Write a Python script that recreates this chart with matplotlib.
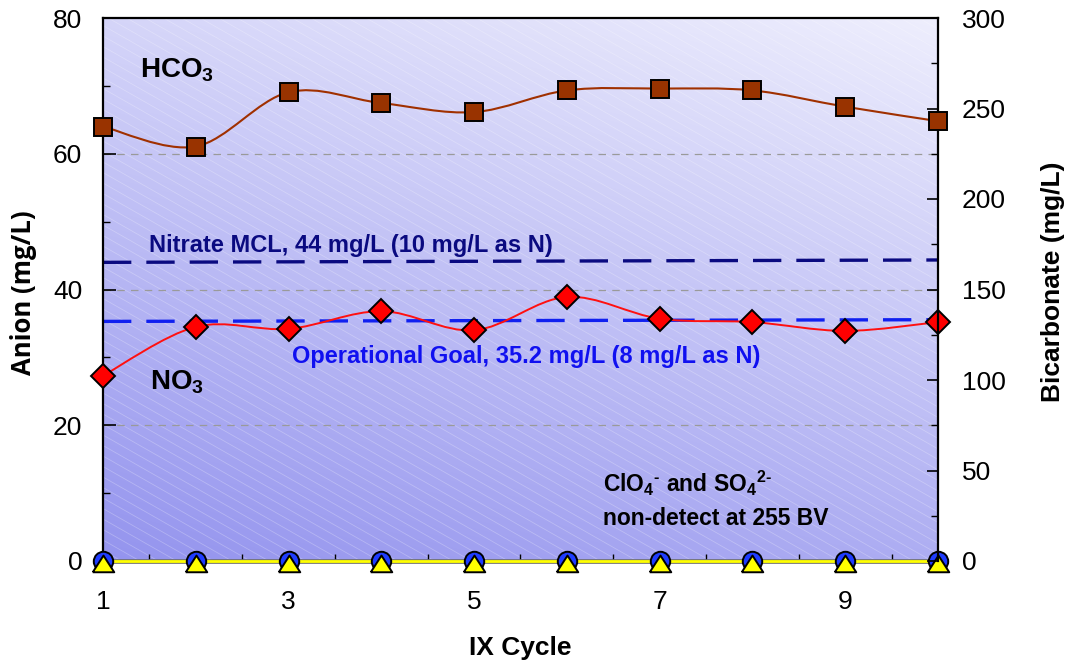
import numpy as np
import matplotlib
matplotlib.use('Agg')
import matplotlib.pyplot as plt
from matplotlib.path import Path
from matplotlib.patches import PathPatch
from matplotlib.collections import LineCollection
import matplotlib.patheffects as pe

plt.rcParams['font.family'] = ['Liberation Sans', 'DejaVu Sans']
plt.rcParams['mathtext.fontset'] = 'custom'
plt.rcParams['mathtext.rm'] = 'Liberation Sans'
plt.rcParams['mathtext.bf'] = 'Liberation Sans:bold'
plt.rcParams['mathtext.it'] = 'Liberation Sans:italic'

# ---------------- data ----------------
cycles = [1, 2, 3, 4, 5, 6, 7, 8, 9, 10]
hco3 = [240, 229, 259, 253, 248, 260, 261, 260, 251, 243]          # right axis
no3 = [27.3, 34.5, 34.2, 36.8, 34.0, 38.9, 35.7, 35.2, 33.9, 35.2]  # left axis
clo4 = [0, 0, 0, 0, 0, 0, 0, 0, 0, 0]
so4 = [0, 0, 0, 0, 0, 0, 0, 0, 0, 0]
mcl_x = [1, 10]
mcl_y = [44.0, 44.35]
goal_x = [1, 10]
goal_y = [35.3, 35.55]
x_ticklabels = ['1', '3', '5', '7', '9']
x_tickpos = [1, 3, 5, 7, 9]
left_ticks = [0, 20, 40, 60, 80]
right_ticks = [0, 50, 100, 150, 200, 250, 300]

W, H = 1066, 665
fig = plt.figure(figsize=(W / 100, H / 100), dpi=100)
L, R, T, B = 103, 938, 18, 561
pos = [L / W, (H - B) / H, (R - L) / W, (B - T) / H]
pw, ph = R - L, B - T

# ---------------- background (gradient + diagonal stripes) ----------------
bg = fig.add_axes(pos, zorder=0)
nx, ny = 200, 200
gx = np.linspace(0, 1, nx)[None, :]
gy = np.linspace(0, 1, ny)[:, None]
t = np.clip((gx * 0.35 + gy * 0.9) / 1.25, 0, 1)
c0 = np.array([148, 148, 238]) / 255.0
c1 = np.array([238, 238, 253]) / 255.0
img = c0[None, None, :] * (1 - t[..., None]) + c1[None, None, :] * t[..., None]
bg.imshow(img, extent=[0, pw, 0, ph], origin='lower', aspect='auto', interpolation='bilinear')
slope = -0.57
segs = []
for c in np.arange(0, ph - slope * pw + 12, 10.5):
    segs.append([(0, c), (pw, c + slope * pw)])
bg.add_collection(LineCollection(segs, colors='white', linewidths=0.6, alpha=0.25))
bg.set_xlim(0, pw)
bg.set_ylim(0, ph)
bg.axis('off')

# ---------------- main axes ----------------
ax = fig.add_axes(pos, zorder=1)
ax.patch.set_visible(False)
ax2 = ax.twinx()
ax2.set_zorder(2)
ax2.patch.set_visible(False)

ax.set_xlim(1, 10)
ax.set_ylim(0, 80)
ax2.set_ylim(0, 300)

for yv in [20, 40, 60]:
    ax.axhline(yv, color='#9a9a9a', lw=0.9, linestyle=(0, (6, 5)), zorder=1)

# reference lines
ax.plot(mcl_x, mcl_y, color='#0a0a80', lw=2.4, dashes=(8.5, 4.5), zorder=2, clip_on=False)
ax.plot(goal_x, goal_y, color='#1020f0', lw=2.4, dashes=(8.5, 4.5), zorder=2, clip_on=False)


def smooth_path(x, y):
    pts = np.column_stack([x, y]).astype(float)
    ext = np.vstack([pts[0], pts, pts[-1]])
    verts = [pts[0]]
    codes = [Path.MOVETO]
    for i in range(len(pts) - 1):
        p0, p1, p2, p3 = ext[i], ext[i + 1], ext[i + 2], ext[i + 3]
        verts += [p1 + (p2 - p0) / 6.0, p2 - (p3 - p1) / 6.0, p2]
        codes += [Path.CURVE4] * 3
    return Path(verts, codes)


# NO3
ax.add_patch(PathPatch(smooth_path(cycles, no3), fill=False, edgecolor='#ff1010', lw=1.4, zorder=3))
ax.plot(cycles, no3, linestyle='none', marker='D', ms=12.5, mfc='#ff0000', mec='black', mew=1.4,
        zorder=4, clip_on=False)

# zero series
ax.plot(cycles, clo4, color='#1f3cff', lw=2, zorder=3, clip_on=False)
ax.plot(cycles, so4, color='#ffff00', lw=2.0, zorder=3.5, clip_on=False,
        path_effects=[pe.Stroke(linewidth=3.4, foreground='#707070'), pe.Normal()])
ax.plot(cycles, clo4, linestyle='none', marker='o', ms=14, mfc='#1f3cff', mec='black', mew=1.4,
        zorder=5, clip_on=False)
tri = [(-1, -1), (1, -1), (0, 0.55), (-1, -1)]
ax.plot(cycles, so4, linestyle='none', marker=tri, ms=15.5, mfc='#ffff00', mec='black', mew=1.4,
        zorder=6, clip_on=False)

# HCO3 (right axis)
ax2.add_patch(PathPatch(smooth_path(cycles, hco3), fill=False, edgecolor='#a03000', lw=1.5, zorder=3))
ax2.plot(cycles, hco3, linestyle='none', marker='s', ms=13.5, mfc='#993300', mec='black', mew=1.4,
         zorder=4, clip_on=False)

# ---------------- ticks & spines ----------------
ax.set_xticks(x_tickpos)
ax.set_xticklabels(x_ticklabels)
ax.set_xticks(np.arange(1.5, 10, 1), minor=True)
ax.tick_params(axis='x', which='major', length=0, labelsize=19, pad=21)
ax.tick_params(axis='x', which='minor', direction='in', length=5, width=1.0, color='black')
ax.set_yticks(left_ticks)
ax.set_yticks(np.arange(10, 80, 20), minor=True)
ax.tick_params(axis='y', which='major', direction='in', length=9, width=1.2, labelsize=19, pad=15)
ax.tick_params(axis='y', which='minor', direction='in', length=5, width=1.0)

ax2.set_yticks(right_ticks)
ax2.set_yticks(np.arange(25, 300, 50), minor=True)
ax2.tick_params(axis='y', which='major', direction='in', length=8, width=1.2, labelsize=19, pad=17)
ax2.tick_params(axis='y', which='minor', direction='in', length=5, width=1.0)

for s in ['left', 'top']:
    ax.spines[s].set_linewidth(1.6)
    ax.spines[s].set_color('black')
ax.spines['bottom'].set_visible(False)
ax.spines['right'].set_visible(False)
for s in ['left', 'top', 'bottom']:
    ax2.spines[s].set_visible(False)
ax2.spines['right'].set_linewidth(1.6)

# ---------------- labels & annotations ----------------
fig.text(0.5 * (L + R) / W, 1 - 648 / H, 'IX Cycle', ha='center', va='center',
         fontsize=19, fontweight='bold')
fig.text(24 / W, 1 - 293 / H, 'Anion (mg/L)', ha='center', va='center', rotation=90,
         fontsize=18.5, fontweight='bold', family=['Open Sans', 'DejaVu Sans'])
fig.text(1053 / W, 1 - 282 / H, 'Bicarbonate (mg/L)', ha='center', va='center', rotation=90,
         fontsize=19, fontweight='bold')

ax.text(1.40, 71.2, r'HCO$_\mathbf{3}$', fontsize=20, fontweight='bold', va='baseline', zorder=7)
ax.text(1.51, 25.2, r'NO$_\mathbf{3}$', fontsize=20, fontweight='bold', va='baseline', zorder=7)
ax.text(1.50, 45.5, 'Nitrate MCL, 44 mg/L (10 mg/L as N)', fontsize=17, fontweight='bold',
        color='#0a0a80', va='baseline', zorder=7)
ax.text(3.04, 29.2, 'Operational Goal, 35.2 mg/L (8 mg/L as N)', fontsize=17, fontweight='bold',
        color='#1010f0', va='baseline', zorder=7)
ax.text(6.39, 10.2, 'ClO${}_\\mathbf{4}{}^\\mathbf{\u2010}$ and SO${}_\\mathbf{4}{}^\\mathbf{2\u2010}$',
        fontsize=16.5, fontweight='bold', va='baseline', zorder=7)
ax.text(6.39, 5.3, 'non-detect at 255 BV', fontsize=16.5, fontweight='bold', va='baseline', zorder=7)

fig.savefig('out.png', dpi=100)
